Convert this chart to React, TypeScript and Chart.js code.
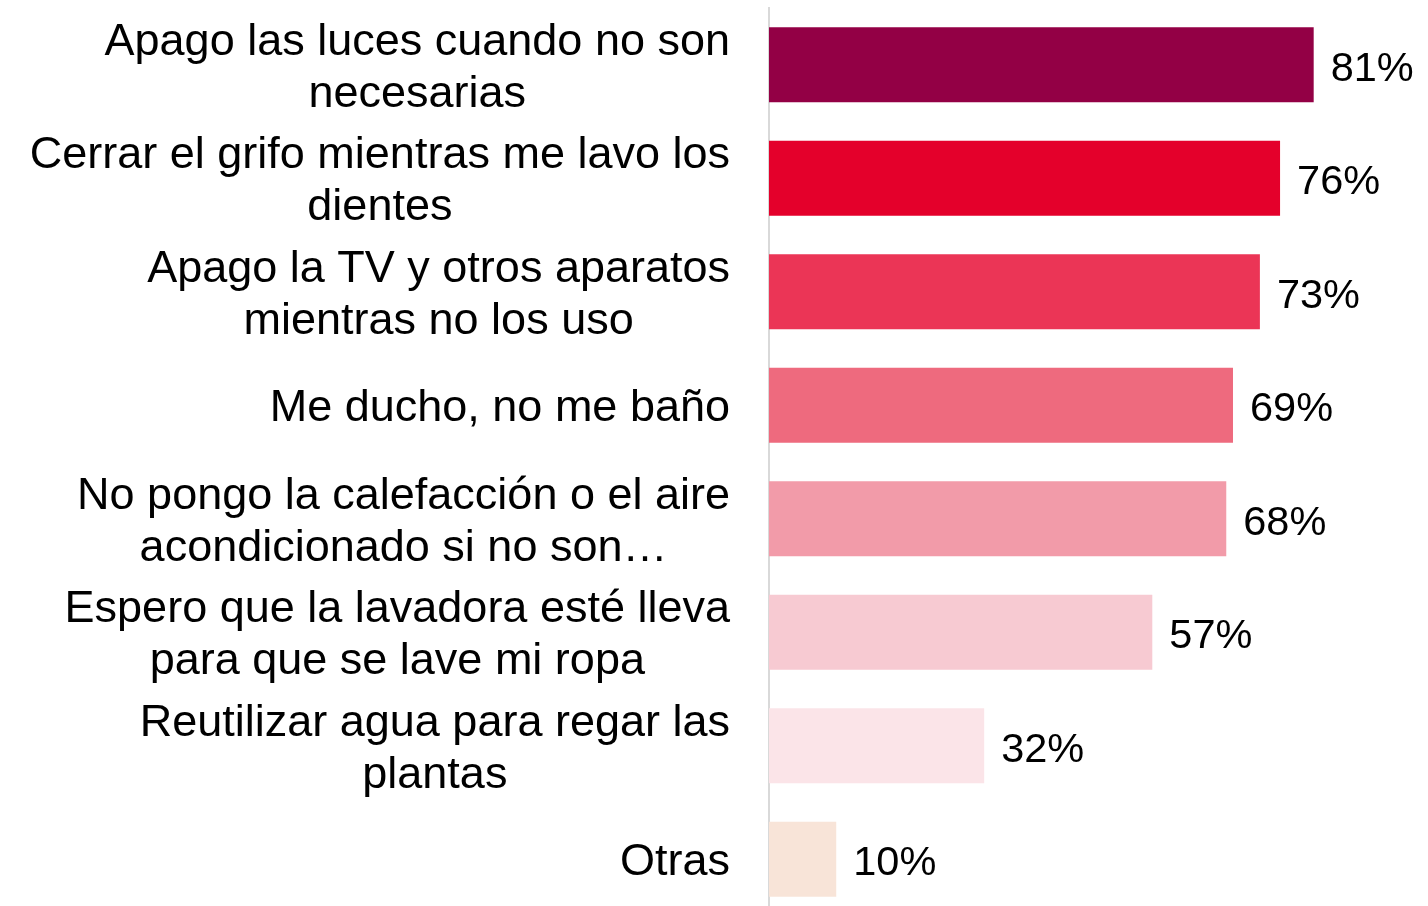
import React, { useEffect, useRef } from "react";
import { Chart, registerables } from "chart.js";

Chart.register(...registerables);

const categories: string[][] = [
  ["Apago las luces cuando no son", "necesarias"],
  ["Cerrar el grifo mientras me lavo los", "dientes"],
  ["Apago la TV y otros aparatos", "mientras no los uso"],
  ["Me ducho, no me baño"],
  ["No pongo la calefacción o el aire", "acondicionado si no son…"],
  ["Espero que la lavadora esté lleva", "para que se lave mi ropa"],
  ["Reutilizar agua para regar las", "plantas"],
  ["Otras"],
];

const values: number[] = [81, 76, 73, 69, 68, 57, 32, 10];

const valueLabels: string[] = ["81%", "76%", "73%", "69%", "68%", "57%", "32%", "10%"];

const barColors: string[] = [
  "#930045",
  "#E4002B",
  "#EB3556",
  "#EE6A7E",
  "#F29BA9",
  "#F7CAD2",
  "#FBE4E8",
  "#F8E4D8",
];

const X_MAX = 98;
const FONT = '"Liberation Sans", Arial, Helvetica, sans-serif';

const labelPlugin = {
  id: "sideLabels",
  afterDatasetsDraw(chart: any) {
    const ctx = chart.ctx as CanvasRenderingContext2D;
    const yScale = chart.scales.y;
    ctx.save();
    ctx.fillStyle = "#000000";
    // category labels: block right-aligned, lines centered within block
    const catSize = 45;
    ctx.font = `${catSize}px ${FONT}`;
    ctx.textAlign = "center";
    ctx.textBaseline = "alphabetic";
    const rightEdge = chart.chartArea.left - 39;
    const lh = 52;
    const capH = catSize * 0.716;
    categories.forEach((lines, i) => {
      const cy = yScale.getPixelForValue(i);
      const widest = Math.max(...lines.map((l) => ctx.measureText(l).width));
      const cx = rightEdge - widest / 2;
      lines.forEach((l, j) => {
        const ly = cy + (j - (lines.length - 1) / 2) * lh + capH / 2;
        ctx.fillText(l, cx, ly);
      });
    });
    // value labels
    const valSize = 41.5;
    ctx.font = `${valSize}px ${FONT}`;
    ctx.textAlign = "left";
    const meta = chart.getDatasetMeta(0);
    meta.data.forEach((bar: any, i: number) => {
      ctx.fillText(valueLabels[i], bar.x + 17, bar.y + (valSize * 0.716) / 2 + 1);
    });
    ctx.restore();
  },
};

export default function App() {
  const canvasRef = useRef<HTMLCanvasElement | null>(null);

  useEffect(() => {
    if (!canvasRef.current) return;
    const chart = new Chart(canvasRef.current, {
      type: "bar",
      data: {
        labels: categories.map((c) => c.join(" ")),
        datasets: [
          {
            data: values,
            backgroundColor: barColors,
            borderWidth: 0,
            categoryPercentage: 1,
            barPercentage: 0.66,
          },
        ],
      },
      options: {
        indexAxis: "y",
        responsive: false,
        animation: false,
        layout: { padding: { top: 8, left: 0, right: 0, bottom: 0 } },
        plugins: {
          legend: { display: false },
          tooltip: { enabled: false },
        },
        scales: {
          x: {
            display: false,
            min: 0,
            max: X_MAX,
          },
          y: {
            type: "category",
            display: true,
            ticks: { display: false },
            grid: { display: false, drawTicks: false },
            border: { display: true, color: "#D9D9D9", width: 2 },
            afterFit: (s: any) => {
              s.width = 769;
            },
          },
        },
      },
      plugins: [labelPlugin],
    } as any);
    return () => chart.destroy();
  }, []);

  return (
    <div
      style={{
        position: "fixed",
        left: 0,
        top: 0,
        width: 1428,
        height: 906,
        overflow: "hidden",
        background: "#ffffff",
      }}
    >
      <canvas ref={canvasRef} width={1428} height={916} style={{ display: "block" }} />
    </div>
  );
}
